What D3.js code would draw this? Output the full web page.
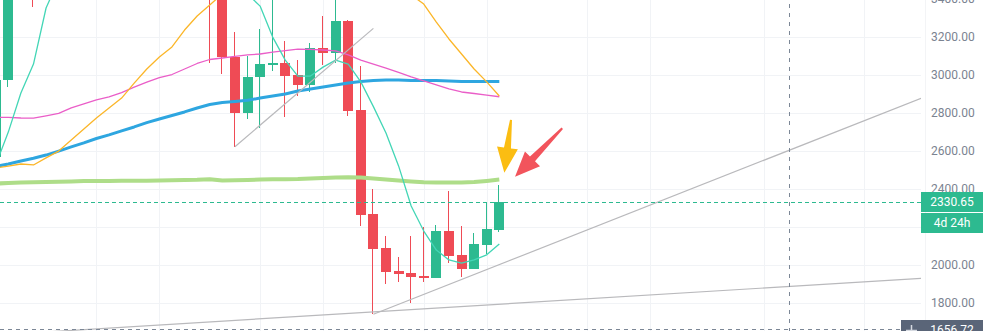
<!DOCTYPE html>
<html>
<head>
<meta charset="utf-8">
<script src="https://cdn.jsdelivr.net/npm/d3@7/dist/d3.min.js"></script>
<style>
  body { margin: 0; background: #fff; }
  svg { display: block; font-family: Roboto, "Noto Sans", sans-serif; }
</style>
</head>
<body>
<div id="chart-area"></div>
<script>
// bar index -1 .. 39 (bar -1 is cut off at the left edge)
const barIndex = d3.range(-1, 40);

const opens = [2567, 2972, 3480, 3590, 3420, 3720, 3840, 3780, 3990, 4100, 4010, 4200, 4120, 4050, 3960, 4040,
  3780, 3640, 3470, 3092, 2797, 2986, 3053, 3060, 2998, 2946, 3139, 3116, 3283, 2814, 2266, 2088, 1967, 1958,
  1941, 1930, 2177, 2053, 1979, 2105, 2184];
const highs = [3000, 3520, 3620, 3700, 3760, 3880, 3990, 4050, 4150, 4200, 4250, 4320, 4300, 4180, 4100, 4080,
  3900, 3720, 3520, 3223, 3100, 3239, 3420, 3177, 3077, 3168, 3309, 3450, 3290, 3046, 2400, 2153, 2039, 2153,
  2200, 2209, 2388, 2204, 2165, 2330, 2418];
const lows = [2540, 2934, 3440, 3355, 3410, 3650, 3760, 3740, 3900, 3950, 3980, 4050, 3980, 3900, 3850, 3700,
  3580, 3062, 3004, 2621, 2765, 2721, 3021, 2776, 2888, 2911, 3051, 3060, 2783, 2203, 1739, 1897, 1907, 1797,
  1907, 1930, 2011, 1937, 1979, 2056, 2174];
const closes = [2972, 3480, 3590, 3420, 3720, 3840, 3780, 3990, 4100, 4010, 4200, 4120, 4050, 3960, 4040, 3780,
  3640, 3470, 3092, 2797, 2986, 3056, 3063, 2995, 2946, 3139, 3116, 3283, 2811, 2261, 2084, 1963, 1953, 1937,
  1930, 2177, 2047, 1979, 2109, 2188, 2330.65];

// moving averages, same bar index
const maTeal = [2525, 2698, 2904, 3056, 3351, 3500, 3650, 3780, 3880, 3960, 4030, 4080, 4100, 4090, 4060, 4000,
  3900, 3780, 3650, 3530, 3425, 3361, 3198, 3077, 2993, 2993, 3040, 3077, 3056, 2962, 2832, 2693, 2520, 2309,
  2177, 2077, 2025, 2008, 2025, 2052, 2109];
const maOrange = [2509, 2519, 2530, 2525, 2562, 2598, 2656, 2714, 2772, 2825, 2877, 2956, 3030, 3093, 3146, 3235,
  3309, 3367, 3425, 3475, 3520, 3560, 3590, 3610, 3620, 3615, 3600, 3580, 3550, 3520, 3490, 3465, 3440, 3420,
  3372, 3277, 3188, 3109, 3030, 2962, 2888];
const maPink = [2776, 2775, 2772, 2771, 2783, 2796, 2825, 2846, 2867, 2883, 2906, 2935, 2961, 2985, 3001, 3030,
  3059, 3080, 3088, 3096, 3104, 3109, 3119, 3127, 3135, 3133, 3130, 3125, 3104, 3077, 3056, 3035, 3012, 2988,
  2967, 2946, 2925, 2909, 2901, 2893, 2884];
const maBlue = [2517, 2530, 2546, 2560, 2577, 2598, 2620, 2641, 2664, 2683, 2704, 2725, 2748, 2767, 2785, 2804,
  2825, 2843, 2854, 2859, 2865, 2877, 2888, 2898, 2914, 2925, 2935, 2946, 2956, 2964, 2969, 2972, 2972, 2969,
  2969, 2969, 2967, 2964, 2964, 2964, 2964];
const maGreen = [2427, 2430, 2432, 2434, 2435, 2437, 2438, 2440, 2441, 2441, 2442, 2442, 2442, 2443, 2444, 2446,
  2447, 2450, 2443, 2444, 2446, 2448, 2450, 2450, 2451, 2454, 2456, 2459, 2460, 2459, 2454, 2448, 2443, 2438,
  2434, 2432, 2432, 2433, 2435, 2441, 2448];

const priceGrid = [1800, 2000, 2200, 2400, 2600, 2800, 3000, 3200, 3400];
// 2200 label sits under the countdown box, so it is not shown
const priceLabels = [1800, 2000, 2400, 2600, 2800, 3000, 3200, 3400];
const timeGrid = [7, 12, 20, 25, 33, 38, 46, 51, 60, 68];

const lastPrice = 2330.65;
const countdown = "4d 24h";
const crossBar = 62;
const crossPrice = 1656.72;

// drawn trend lines [bar, price]
const trendLines = [
  [[18, 2621], [29, 3244]],
  [[29, 1739], [72.5, 2876]],
  [[-0.7, 1631], [72.5, 1928]]
];
// drawn arrows: tail -> tip [bar, price]
const arrows = [
  { tail: [39.93, 2762], tip: [39.4, 2484], color: "#fbbd12" },
  { tail: [44.0, 2718], tip: [40.25, 2463], color: "#f2545c" }
];

const W = 983, H = 331, plotW = 921;
const upColor = "#2dba90", downColor = "#ef4b55";

let x = d3.scaleLinear().domain([0, 39]).range([8.3, 499.3]);
let y = d3.scaleLinear().domain([1800, 3200]).range([302.7, 36.7]);

let svg = d3
  .select("#chart-area")
  .append("svg")
  .attr("width", W)
  .attr("height", H);

svg.append("defs")
  .append("clipPath")
  .attr("id", "plot-clip")
  .append("rect")
  .attr("width", plotW)
  .attr("height", H);

// grid
let grid = svg.append("g").attr("shape-rendering", "crispEdges");
grid.selectAll(".hgrid")
  .data(priceGrid)
  .enter()
  .append("line")
  .attr("x1", 0)
  .attr("x2", plotW)
  .attr("y1", d => Math.round(y(d)) + 0.5)
  .attr("y2", d => Math.round(y(d)) + 0.5)
  .attr("stroke", "#f1f3f6");
grid.selectAll(".vgrid")
  .data(timeGrid)
  .enter()
  .append("line")
  .attr("x1", d => Math.round(x(d)) + 0.5)
  .attr("x2", d => Math.round(x(d)) + 0.5)
  .attr("y1", 0)
  .attr("y2", H)
  .attr("stroke", "#f1f3f6");
grid.append("line")
  .attr("x1", 925.5).attr("x2", 925.5)
  .attr("y1", 0).attr("y2", H)
  .attr("stroke", "#f3f4f6");

let plot = svg.append("g").attr("clip-path", "url(#plot-clip)");

// candles
let bars = barIndex.map((b, i) => ({
  b: b, o: opens[i], h: highs[i], l: lows[i], c: closes[i]
}));
let candle = plot.selectAll(".candle")
  .data(bars)
  .enter()
  .append("g")
  .attr("shape-rendering", "crispEdges")
  .attr("fill", d => (d.c >= d.o ? upColor : downColor));
candle.append("rect")
  .attr("x", d => Math.round(x(d.b)) - 1)
  .attr("width", 1)
  .attr("y", d => y(d.h))
  .attr("height", d => y(d.l) - y(d.h));
candle.append("rect")
  .attr("x", d => Math.round(x(d.b)) - 5)
  .attr("width", 10)
  .attr("y", d => y(Math.max(d.o, d.c)))
  .attr("height", d => Math.max(1.5, Math.abs(y(d.o) - y(d.c))));

// moving averages
let maLine = d3.line()
  .x((d, i) => x(barIndex[i]))
  .y(d => y(d));
[
  { v: maGreen, color: "#aedd89", w: 4 },
  { v: maBlue, color: "#2ea6e0", w: 3 },
  { v: maPink, color: "#ea5ec8", w: 1.3 },
  { v: maOrange, color: "#fbb629", w: 1.3 },
  { v: maTeal, color: "#43d6b6", w: 1.3 }
].forEach(m => {
  plot.append("path")
    .datum(m.v)
    .attr("fill", "none")
    .attr("stroke", m.color)
    .attr("stroke-width", m.w)
    .attr("stroke-linejoin", "round")
    .attr("d", maLine);
});

// trend lines
plot.selectAll(".trend")
  .data(trendLines)
  .enter()
  .append("line")
  .attr("x1", d => x(d[0][0]))
  .attr("y1", d => y(d[0][1]))
  .attr("x2", d => x(d[1][0]))
  .attr("y2", d => y(d[1][1]))
  .attr("stroke", "#b9b9bc")
  .attr("stroke-width", 1.2);

// last price line
plot.append("line")
  .attr("x1", 0)
  .attr("x2", plotW)
  .attr("y1", Math.round(y(lastPrice)) + 0.5)
  .attr("y2", Math.round(y(lastPrice)) + 0.5)
  .attr("stroke", upColor)
  .attr("stroke-dasharray", "4,3");

// arrows
function arrowPath(a) {
  let t0 = [x(a.tail[0]), y(a.tail[1])];
  let t1 = [x(a.tip[0]), y(a.tip[1])];
  let dx = t1[0] - t0[0], dy = t1[1] - t0[1];
  let len = Math.sqrt(dx * dx + dy * dy);
  let ux = dx / len, uy = dy / len, nx = -uy, ny = ux;
  let headLen = 25, headW = 10.5, w0 = 1, w1 = 3.5;
  let bx = t1[0] - ux * headLen, by = t1[1] - uy * headLen;
  let pts = [
    [t0[0] + nx * w0, t0[1] + ny * w0],
    [bx + nx * w1, by + ny * w1],
    [bx + nx * headW, by + ny * headW],
    t1,
    [bx - nx * headW, by - ny * headW],
    [bx - nx * w1, by - ny * w1],
    [t0[0] - nx * w0, t0[1] - ny * w0]
  ];
  return "M" + pts.map(p => p.join(",")).join("L") + "Z";
}
plot.selectAll(".arrow")
  .data(arrows)
  .enter()
  .append("path")
  .attr("d", arrowPath)
  .attr("fill", d => d.color);

// crosshair
let crossX = Math.round(x(crossBar)) + 0.5;
let crossY = Math.round(y(crossPrice)) - 0.5;
plot.append("line")
  .attr("x1", crossX).attr("x2", crossX)
  .attr("y1", 4).attr("y2", H)
  .attr("stroke", "#7c8796")
  .attr("stroke-dasharray", "4,5");
plot.append("line")
  .attr("x1", 0).attr("x2", 901)
  .attr("y1", crossY).attr("y2", crossY)
  .attr("stroke", "#7c8796")
  .attr("stroke-dasharray", "4,4");

// price axis
let axis = svg.append("g")
  .attr("transform", "translate(931,0)")
  .call(d3.axisRight(y).tickValues(priceLabels).tickSize(0).tickPadding(0).tickFormat(d3.format(".2f")));
axis.select(".domain").remove();
axis.selectAll("text")
  .attr("font-size", 12)
  .attr("font-family", "Roboto, sans-serif")
  .attr("fill", "#7b8391");

// last price + countdown labels
let ly = y(lastPrice);
svg.append("rect")
  .attr("x", 921).attr("y", Math.round(ly) - 10)
  .attr("width", 62).attr("height", 20)
  .attr("fill", upColor);
svg.append("text")
  .attr("x", 952).attr("y", ly)
  .attr("dy", "0.35em")
  .attr("text-anchor", "middle")
  .attr("font-size", 12)
  .attr("fill", "#fff")
  .text(d3.format(".2f")(lastPrice));
svg.append("rect")
  .attr("x", 921).attr("y", Math.round(ly) + 11)
  .attr("width", 62).attr("height", 20)
  .attr("fill", upColor);
svg.append("text")
  .attr("x", 952).attr("y", ly + 21)
  .attr("dy", "0.35em")
  .attr("text-anchor", "middle")
  .attr("font-size", 12)
  .attr("fill", "#fff")
  .text(countdown);

// crosshair price label
let cy = y(crossPrice);
svg.append("rect")
  .attr("x", 921).attr("y", Math.round(cy) - 10)
  .attr("width", 62).attr("height", 20)
  .attr("fill", "#5a6578");
svg.append("text")
  .attr("x", 952).attr("y", cy)
  .attr("dy", "0.35em")
  .attr("text-anchor", "middle")
  .attr("font-size", 12)
  .attr("fill", "#fff")
  .text(d3.format(".2f")(crossPrice));
svg.append("rect")
  .attr("x", 901).attr("y", Math.round(cy) - 10)
  .attr("width", 20).attr("height", 20)
  .attr("fill", "#5a6578");
svg.append("path")
  .attr("d", "M906," + (Math.round(cy) + 0.5) + "H917M911.5," + (Math.round(cy) - 5) + "V" + (Math.round(cy) + 6))
  .attr("stroke", "#d5d9e0")
  .attr("stroke-width", 1.5);
</script>
</body>
</html>
